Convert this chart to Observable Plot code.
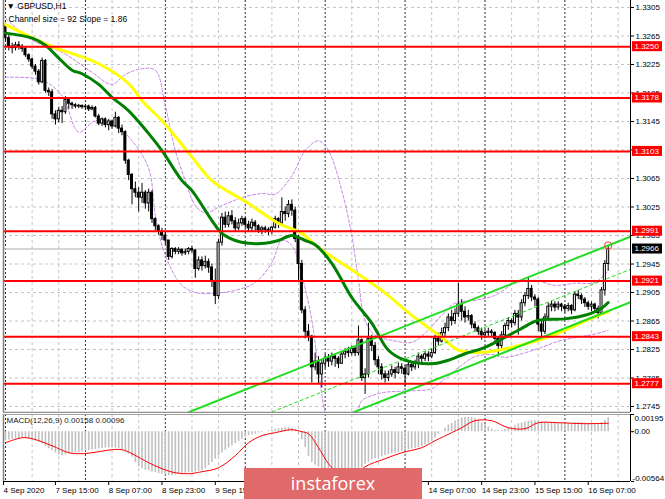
<!DOCTYPE html>
<html><head><meta charset="utf-8">
<script src="https://cdn.jsdelivr.net/npm/d3@7"></script>
<script src="https://cdn.jsdelivr.net/npm/@observablehq/plot@0.6"></script>
<style>
html,body{margin:0;padding:0;background:#fff;overflow:hidden;}
#wrap{position:relative;width:665px;height:499px;overflow:hidden;background:#fff;}
#main,#macd{position:absolute;left:0;}
#main{top:0;}
#macd{top:413px;}
#logo{position:absolute;left:244px;top:468px;width:178px;height:31px;background:#e06a6a;color:#fff;font:400 18px "Open Sans",sans-serif;text-align:center;line-height:30px;}
</style></head><body>
<div id="wrap"><div id="main"></div><div id="macd"></div><div id="logo">instaforex</div></div>
<script>
// ---------- DATA (hourly GBPUSD bars, bar index 0 = 7 Sep 00:00) ----------
const firstOpen = 1.3280;
const closeP = [1.3262,1.3250,1.3248,1.3252,1.3250,1.3247,1.3238,1.3232,1.3222,1.3215,
1.3200,1.3230,1.3188,1.3186,1.3155,1.3148,1.3160,1.3158,1.3175,1.3170,
1.3168,1.3166,1.3167,1.3165,1.3166,1.3162,1.3164,1.3152,1.3142,1.3148,
1.3140,1.3145,1.3138,1.3150,1.3135,1.3130,1.3090,1.3070,1.3050,1.3045,
1.3038,1.3045,1.3030,1.3045,1.3008,1.2998,1.2990,1.2985,1.2978,1.2955,
1.2966,1.2962,1.2965,1.2960,1.2962,1.2966,1.2964,1.2938,1.2950,1.2942,
1.2948,1.2940,1.2920,1.2900,1.2975,1.3010,1.3000,1.3012,1.3005,1.2995,
1.3002,1.3008,1.3000,1.2995,1.3003,1.2998,1.2992,1.2995,1.2993,1.2990,
1.2996,1.3008,1.3002,1.3018,1.3015,1.3028,1.3020,1.2980,1.2945,1.2880,
1.2850,1.2843,1.2800,1.2808,1.2790,1.2805,1.2812,1.2808,1.2815,1.2812,
1.2805,1.2818,1.2822,1.2820,1.2826,1.2820,1.2838,1.2785,1.2790,1.2840,
1.2830,1.2810,1.2800,1.2790,1.2785,1.2790,1.2796,1.2792,1.2800,1.2798,
1.2790,1.2803,1.2800,1.2806,1.2815,1.2812,1.2818,1.2815,1.2820,1.2840,
1.2836,1.2848,1.2855,1.2870,1.2865,1.2875,1.2888,1.2878,1.2870,1.2872,
1.2860,1.2855,1.2850,1.2845,1.2848,1.2850,1.2848,1.2840,1.2830,1.2845,
1.2858,1.2865,1.2862,1.2875,1.2870,1.2890,1.2900,1.2910,1.2898,1.2895,
1.2860,1.2850,1.2870,1.2885,1.2888,1.2884,1.2888,1.2885,1.2882,1.2886,
1.2880,1.2902,1.2900,1.2895,1.2890,1.2885,1.2888,1.2882,1.2876,1.2908,
1.2945,1.2966];
const highP = [1.3283,1.3266,1.3255,1.3256,1.3257,1.3253,1.3250,1.3240,1.3234,1.3225,
1.3218,1.3234,1.3232,1.3192,1.3190,1.3160,1.3165,1.3166,1.3180,1.3178,
1.3172,1.3170,1.3169,1.3168,1.3169,1.3168,1.3167,1.3166,1.3155,1.3150,
1.3150,1.3148,1.3147,1.3158,1.3152,1.3140,1.3132,1.3092,1.3072,1.3060,
1.3052,1.3058,1.3048,1.3050,1.3048,1.3010,1.3000,1.2995,1.2990,1.2978,
1.2968,1.2968,1.2968,1.2966,1.2966,1.2968,1.2970,1.2965,1.2955,1.2955,
1.2956,1.2952,1.2945,1.2938,1.2980,1.3016,1.3018,1.3018,1.3020,1.3010,
1.3008,1.3012,1.3010,1.3005,1.3008,1.3006,1.3000,1.2998,1.2998,1.2996,
1.2998,1.3012,1.3010,1.3038,1.3025,1.3034,1.3035,1.3025,1.2985,1.2950,
1.2885,1.2860,1.2845,1.2820,1.2815,1.2810,1.2818,1.2818,1.2820,1.2818,
1.2815,1.2822,1.2826,1.2828,1.2830,1.2828,1.2858,1.2840,1.2798,1.2862,
1.2845,1.2835,1.2815,1.2805,1.2795,1.2795,1.2802,1.2800,1.2806,1.2805,
1.2802,1.2808,1.2808,1.2810,1.2820,1.2818,1.2822,1.2822,1.2826,1.2845,
1.2848,1.2855,1.2862,1.2875,1.2880,1.2882,1.2918,1.2895,1.2885,1.2880,
1.2874,1.2864,1.2858,1.2855,1.2852,1.2855,1.2853,1.2850,1.2842,1.2850,
1.2862,1.2870,1.2868,1.2880,1.2880,1.2895,1.2905,1.2925,1.2915,1.2902,
1.2898,1.2865,1.2875,1.2890,1.2893,1.2892,1.2892,1.2890,1.2888,1.2890,
1.2888,1.2905,1.2908,1.2903,1.2898,1.2893,1.2892,1.2890,1.2886,1.2912,
1.2950,1.2971];
const lowP = [1.3258,1.3244,1.3240,1.3244,1.3245,1.3242,1.3235,1.3228,1.3218,1.3210,
1.3196,1.3198,1.3185,1.3180,1.3148,1.3140,1.3143,1.3142,1.3155,1.3162,
1.3162,1.3163,1.3163,1.3162,1.3161,1.3159,1.3160,1.3150,1.3139,1.3138,
1.3136,1.3132,1.3134,1.3136,1.3128,1.3125,1.3085,1.3062,1.3028,1.3038,
1.3018,1.3030,1.3022,1.3018,1.3002,1.2992,1.2985,1.2978,1.2972,1.2950,
1.2952,1.2958,1.2958,1.2956,1.2957,1.2958,1.2960,1.2925,1.2935,1.2935,
1.2938,1.2932,1.2912,1.2888,1.2895,1.2970,1.2995,1.2996,1.3000,1.2990,
1.2992,1.2998,1.2995,1.2990,1.2990,1.2990,1.2988,1.2986,1.2988,1.2985,
1.2986,1.2994,1.2995,1.3000,1.3005,1.3010,1.3012,1.2975,1.2922,1.2875,
1.2840,1.2836,1.2778,1.2795,1.2776,1.2771,1.2798,1.2800,1.2802,1.2800,
1.2798,1.2804,1.2812,1.2814,1.2816,1.2815,1.2816,1.2780,1.2762,1.2785,
1.2822,1.2802,1.2790,1.2782,1.2778,1.2780,1.2786,1.2784,1.2790,1.2790,
1.2772,1.2788,1.2794,1.2796,1.2798,1.2806,1.2808,1.2808,1.2812,1.2818,
1.2830,1.2834,1.2842,1.2850,1.2858,1.2860,1.2870,1.2865,1.2862,1.2865,
1.2854,1.2850,1.2845,1.2838,1.2840,1.2843,1.2842,1.2834,1.2815,1.2826,
1.2842,1.2852,1.2855,1.2858,1.2845,1.2865,1.2885,1.2895,1.2892,1.2885,
1.2850,1.2842,1.2846,1.2866,1.2878,1.2878,1.2880,1.2878,1.2876,1.2878,
1.2874,1.2878,1.2895,1.2888,1.2884,1.2880,1.2878,1.2876,1.2868,1.2874,
1.2900,1.2935];

// moving averages read at selected bars
const slowMaBars = [0,13,28,37,41,47,55,62,73,82,89,94,103,113,122,131,136,143,152,160,168,176,181];
const slowMa = [1.3281,1.3252,1.3226,1.3198,1.3174,1.3146,1.3101,1.3062,1.3030,1.3002,1.2988,1.2968,1.2940,1.2908,1.2873,1.2842,1.2824,1.2821,1.2828,1.2838,1.2852,1.2869,1.2878];
const fastMaBars = [0,8,12,16,20,23,28,32,37,43,47,53,56,62,65,69,73,78,82,86,90,93,98,104,110,115,120,128,133,138,144,154,160,168,174,179,181];
const fastMa = [1.3269,1.3262,1.3252,1.3234,1.3217,1.3212,1.3197,1.3179,1.3160,1.3128,1.3104,1.3062,1.3048,1.3006,1.2988,1.2978,1.2974,1.2974,1.2978,1.2985,1.2978,1.2972,1.2946,1.2898,1.2862,1.2824,1.2810,1.2805,1.2810,1.2819,1.2828,1.2852,1.2866,1.2868,1.2873,1.2883,1.2891];

// envelope bands (violet dashed)
const upperBandBars = [0,8,17,26,32,36,41,45,48,51,54,57,60,65,71,77,81,86,90,94,97,101,104,106,108,111,116,122,126,131,135,141,147,153,159,165,171,177,181];
const upperBand = [1.3290,1.3259,1.3242,1.3214,1.3197,1.3211,1.3219,1.3217,1.3167,1.3104,1.3062,1.3027,1.3017,1.3027,1.3038,1.3044,1.3043,1.3069,1.3104,1.3118,1.3104,1.3048,1.2985,1.2922,1.2866,1.2845,1.2838,1.2835,1.2848,1.2873,1.2890,1.2894,1.2901,1.2918,1.2922,1.2915,1.2918,1.2919,1.2936];
const lowerBandBars = [0,11,17,22,27,33,38,43,45,47,50,53,57,63,69,75,80,83,86,89,92,94,96,99,104,107,110,114,122,128,132,137,141,146,150,155,161,167,173,179,181];
const lowerBand = [1.3207,1.3203,1.3181,1.3130,1.3146,1.3139,1.3118,1.3079,1.3013,1.2971,1.2936,1.2915,1.2905,1.2904,1.2908,1.2919,1.2947,1.2978,1.2971,1.2929,1.2866,1.2796,1.2737,1.2700,1.2711,1.2753,1.2760,1.2765,1.2767,1.2770,1.2784,1.2803,1.2815,1.2818,1.2814,1.2819,1.2828,1.2838,1.2843,1.2849,1.2852];

// regression channel (size 92, slope 1.86)
const channelBars = [55, 188];
const channelUpper = [1.2737, 1.2984];
const channelMiddle = [1.2691, 1.2938];
const channelLower = [1.2645, 1.2892];

// support / resistance levels and last price
const levels = [1.3250, 1.3178, 1.3103, 1.2991, 1.2921, 1.2843, 1.2777];
const lastPrice = 1.2966;
const priceTicks = [1.3305,1.3265,1.3225,1.3185,1.3145,1.3105,1.3065,1.3025,1.2985,1.2945,1.2905,1.2865,1.2825,1.2785,1.2745];
// labels as seen (1.3105 is fully covered by the 1.3103 box)
const priceTickLabels = ["1.3305","1.3265","1.3225","1.3185","1.3145","","1.3065","1.3025","1.2985","1.2945","1.2905","1.2865","1.2825","1.2785","1.2745"];

// MACD(12,26,9): histogram (main) per bar, in 1e-5
const macdHist = [-102,-95,-88,-82,-79,-78,-80,-85,-95,-108,
-120,-140,-165,-190,-215,-240,-265,-272,-262,-252,
-245,-240,-236,-230,-222,-215,-208,-200,-195,-190,
-185,-181,-182,-186,-193,-205,-225,-250,-290,-350,
-400,-420,-435,-442,-455,-465,-476,-485,-492,-498,
-496,-490,-478,-474,-470,-467,-462,-455,-448,-440,
-420,-385,-350,-310,-275,-240,-210,-185,-160,-135,
-110,-85,-60,-45,-35,-25,-15,-8,0,10,
20,28,35,40,45,45,38,20,-20,-90,
-180,-280,-350,-380,-400,-420,-440,-470,-500,-525,
-540,-550,-548,-540,-520,-490,-450,-410,-370,-345,
-320,-305,-295,-285,-270,-260,-250,-245,-235,-225,
-215,-205,-195,-188,-181,-170,-150,-130,-105,-75,
-30,5,40,75,95,120,140,155,160,162,
160,150,130,100,80,55,30,15,10,15,
25,35,50,70,90,100,110,118,125,125,
118,110,105,100,100,98,95,92,90,92,
95,100,105,102,98,95,92,90,88,100,
130,158];
const signalBars = [0,5,8,14,19,23,26,32,35,38,43,47,51,55,59,64,69,73,77,81,86,89,91,94,97,99,102,105,108,114,119,125,129,134,137,141,146,151,156,160,166,174,181];
const signalVals = [-125,-68,-79,-159,-238,-249,-238,-204,-204,-249,-351,-419,-465,-476,-453,-408,-272,-125,-45,-11,23,0,-23,-181,-363,-442,-520,-500,-397,-306,-238,-181,-102,-11,45,125,125,45,34,102,102,91,96];
const macdTicks = [0.00195, 0, -0.00564];
const macdTickLabels = ["0.00195", "0.00", "-0.00564"];
const macdTitle = "MACD(12,26,9) 0.00158 0.00096";

// time axis (labels under the logo are not visible in the source)
const dateTickBars = [-0.6,15,31,47,63,79,95,111,127,143,159,175];
const dateTickLabels = ["4 Sep 2020","7 Sep 15:00","8 Sep 07:00","8 Sep 23:00","9 Sep 15:00","","","","14 Sep 07:00","14 Sep 23:00","15 Sep 15:00","16 Sep 07:00"];
const dayGrid = [0,24,48,72,96,120,144,168];
const minorGrid = [8,16,32,40,56,64,80,88,104,112,128,136,152,160,176,184];

// ---------- BUILD ----------
const FONT = "'Liberation Sans', Arial, sans-serif";
const xDomain = [-0.6, 187.7];
const yDomain = [1.27366, 1.33148];
const macdDomain = [-0.00564, 0.00195];

const candles = closeP.map((c, i) => {
  const o = i === 0 ? firstOpen : closeP[i - 1];
  return {i, open: o, close: c, high: Math.max(highP[i], o, c), low: Math.min(lowP[i], o, c)};
});
const pts = (bars, vals) => bars.map((b, k) => ({i: b, v: vals[k]}));
const histRows = macdHist.map((h, i) => ({i, h: h / 1e5}));
const signalRows = signalBars.map((b, k) => ({i: b, v: signalVals[k] / 1e5}));
const dateMap = new Map(dateTickBars.map((b, k) => [b, dateTickLabels[k]]));
const priceMap = new Map(priceTicks.map((t, k) => [t, priceTickLabels[k]]));
const macdMap = new Map(macdTicks.map((t, k) => [t, macdTickLabels[k]]));

function priceBoxes(index, scales, values, dim) {
  const g = d3.create("svg:g").attr("font-family", FONT).attr("font-size", 8).attr("text-anchor", "start");
  const x0 = dim.width - dim.marginRight + 2;
  const items = levels.map(v => ({v, bg: "#ff0000"})).concat([{v: lastPrice, bg: "#000000"}]);
  for (const it of items) {
    const y = scales.y(it.v);
    g.append("rect").attr("x", x0).attr("y", y - 5).attr("width", 30).attr("height", 10).attr("fill", it.bg);
    g.append("text").attr("x", x0 + 2.5).attr("y", y).attr("dy", "0.34em").attr("fill", "white").text(it.v.toFixed(4));
  }
  return g.node();
}

const mainChart = Plot.plot({
  width: 665, height: 413,
  marginTop: 0, marginRight: 35, marginBottom: 1, marginLeft: 3,
  style: {fontFamily: FONT, fontSize: "8px", background: "white", color: "black"},
  x: {domain: xDomain, axis: null},
  y: {domain: yDomain},
  color: {type: "identity"},
  marks: [
    Plot.gridY({ticks: priceTicks, stroke: "#c4c4c4", strokeOpacity: 1, strokeDasharray: "3,3"}),
    Plot.gridX({ticks: minorGrid, stroke: "#c4c4c4", strokeOpacity: 1, strokeDasharray: "3,3"}),
    Plot.gridX({ticks: dayGrid, stroke: "#303030", strokeOpacity: 1, strokeDasharray: "2,2"}),
    Plot.ruleY([lastPrice], {stroke: "#c8c8c8", strokeWidth: 1.5}),
    Plot.line(pts(upperBandBars, upperBand), {x: "i", y: "v", stroke: "#c583e6", strokeWidth: 1, strokeDasharray: "3,2", curve: "catmull-rom", clip: true}),
    Plot.line(pts(lowerBandBars, lowerBand), {x: "i", y: "v", stroke: "#c583e6", strokeWidth: 1, strokeDasharray: "3,2", curve: "catmull-rom", clip: true}),
    Plot.ruleX(candles, {x: "i", y1: "low", y2: "high", stroke: "black", strokeWidth: 1}),
    Plot.rect(candles, {
      x1: d => d.i - 0.3, x2: d => d.i + 0.3,
      y1: "open", y2: d => Math.abs(d.close - d.open) < 0.00004 ? d.open + 0.00004 : d.close,
      fill: d => d.close >= d.open ? "white" : "black", stroke: "black", strokeWidth: 1
    }),
    Plot.line(pts(slowMaBars, slowMa), {x: "i", y: "v", stroke: "#ffff00", strokeWidth: 3, curve: "catmull-rom"}),
    Plot.line(pts(fastMaBars, fastMa), {x: "i", y: "v", stroke: "#008000", strokeWidth: 3, curve: "catmull-rom"}),
    Plot.line(pts(channelBars, channelUpper), {x: "i", y: "v", stroke: "#22dd22", strokeWidth: 2, clip: true}),
    Plot.line(pts(channelBars, channelLower), {x: "i", y: "v", stroke: "#22dd22", strokeWidth: 2, clip: true}),
    Plot.line(pts(channelBars, channelMiddle), {x: "i", y: "v", stroke: "#22dd22", strokeWidth: 1, strokeDasharray: "3,3", clip: true}),
    Plot.ruleY(levels, {stroke: "#ff0000", strokeWidth: 2}),
    Plot.dot([{i: candles.length - 1, v: highP[highP.length - 1]}], {x: "i", y: "v", r: 3.5, stroke: "#ff5050", fill: "none", strokeWidth: 1.2}),
    Plot.ruleX([xDomain[0]], {stroke: "#808080", strokeWidth: 1.5}),
    Plot.ruleY([yDomain[0]], {stroke: "#909090", strokeWidth: 1.5}),
    Plot.ruleX([xDomain[1]], {stroke: "black", strokeWidth: 1}),
    Plot.axisY({anchor: "right", ticks: priceTicks, tickFormat: d => priceMap.get(d), tickSize: 3, tickPadding: 2, label: null}),
    priceBoxes,
    Plot.text(["▼ GBPUSD,H1"], {frameAnchor: "top-left", dx: 3, dy: 2, lineAnchor: "top", textAnchor: "start", fontSize: 8.5, fill: "black"}),
    Plot.text(["Channel size = 92 Slope = 1.86"], {frameAnchor: "top-left", dx: 5, dy: 15, lineAnchor: "top", textAnchor: "start", fontSize: 8.5, fill: "black"})
  ]
});
document.getElementById("main").appendChild(mainChart);

const macdChart = Plot.plot({
  width: 665, height: 86,
  marginTop: 1, marginRight: 35, marginBottom: 18, marginLeft: 3,
  style: {fontFamily: FONT, fontSize: "8px", background: "white", color: "black"},
  x: {domain: xDomain},
  y: {domain: macdDomain},
  marks: [
    Plot.gridX({ticks: minorGrid, stroke: "#c4c4c4", strokeOpacity: 1, strokeDasharray: "3,3"}),
    Plot.gridX({ticks: dayGrid, stroke: "#303030", strokeOpacity: 1, strokeDasharray: "2,2"}),
    Plot.ruleX(histRows, {x: "i", y1: 0, y2: "h", stroke: "#c0c0c0", strokeWidth: 1.6}),
    Plot.line(signalRows, {x: "i", y: "v", stroke: "#ff0000", strokeWidth: 1, curve: "catmull-rom"}),
    Plot.ruleX([xDomain[0]], {stroke: "#808080", strokeWidth: 1.5}),
    Plot.ruleY([macdDomain[1]], {stroke: "#a0a0a0", strokeWidth: 1}),
    Plot.ruleY([macdDomain[0]], {stroke: "black", strokeWidth: 1}),
    Plot.ruleX([xDomain[1]], {stroke: "black", strokeWidth: 1}),
    Plot.axisX({ticks: dateTickBars, tickFormat: d => dateMap.get(d), textAnchor: "start", tickSize: 4, tickPadding: 2, label: null}),
    Plot.axisY({anchor: "right", ticks: macdTicks, tickSize: 3, tickFormat: () => "", label: null}),
    Plot.text([macdTicks[0]], {y: d => d, frameAnchor: "right", dx: 4, dy: 1, textAnchor: "start", lineAnchor: "top", text: d => macdMap.get(d)}),
    Plot.text([macdTicks[1]], {y: d => d, frameAnchor: "right", dx: 4, textAnchor: "start", lineAnchor: "middle", text: d => macdMap.get(d)}),
    Plot.text([macdTicks[2]], {y: d => d, frameAnchor: "right", dx: 2, dy: -1, textAnchor: "start", lineAnchor: "bottom", text: d => macdMap.get(d)}),
    Plot.text([macdTitle], {frameAnchor: "top-left", dx: 3, dy: 3, lineAnchor: "top", textAnchor: "start", fill: "#222"})
  ]
});
document.getElementById("macd").appendChild(macdChart);
</script></body></html>
